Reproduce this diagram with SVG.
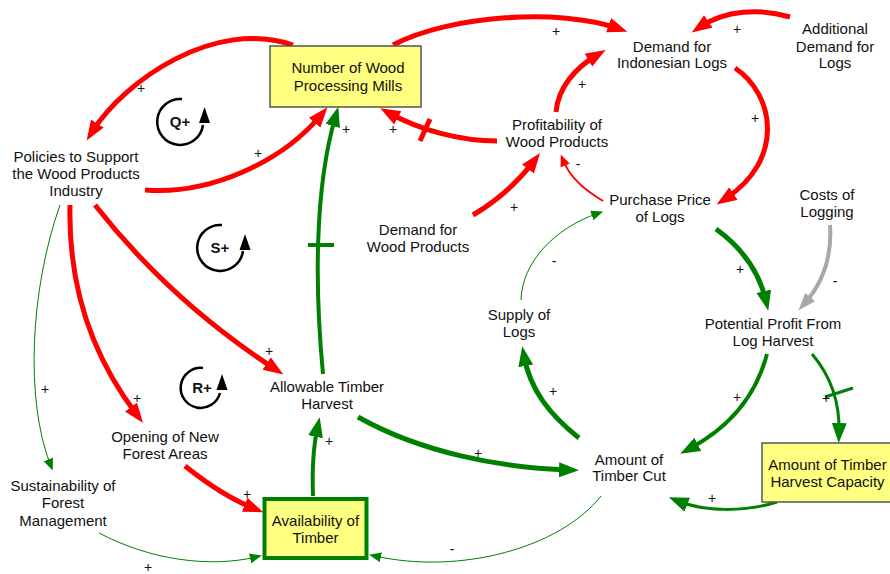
<svg xmlns="http://www.w3.org/2000/svg" width="890" height="574" viewBox="0 0 890 574">
<defs>
<style>
text{font-family:"Liberation Sans",Arial,sans-serif;font-size:15px;fill:#111;text-anchor:middle}
.pol{font-size:14px}
.loop{font-weight:bold;font-size:15px}
.c{fill:none;stroke-linecap:butt}
.r{stroke:#ff0000;stroke-width:5}
.rm{stroke:#ff0000;stroke-width:2}
.g{stroke:#008000;stroke-width:5}
.g4{stroke:#008000;stroke-width:4}
.g3{stroke:#008000;stroke-width:3}
.gt{stroke:#008000;stroke-width:1}
.gy{stroke:#a8a8a8;stroke-width:4}
.box{fill:#ffff80;stroke:#555;stroke-width:1.5}
.lp{fill:none;stroke:#000;stroke-width:2.5}
</style>
<marker id="ar" markerUnits="userSpaceOnUse" markerWidth="22" markerHeight="18" refX="10" refY="8" orient="auto"><path d="M0,0.5 L20,8 L0,15.5 z" fill="#ff0000"/></marker>
<marker id="arm" markerUnits="userSpaceOnUse" markerWidth="14" markerHeight="12" refX="6" refY="5" orient="auto"><path d="M0,0 L12,5 L0,10 z" fill="#ff0000"/></marker>
<marker id="ag" markerUnits="userSpaceOnUse" markerWidth="22" markerHeight="18" refX="10" refY="8" orient="auto"><path d="M0,0.5 L20,8 L0,15.5 z" fill="#008000"/></marker>
<marker id="agt" markerUnits="userSpaceOnUse" markerWidth="14" markerHeight="12" refX="6" refY="5" orient="auto"><path d="M0,0 L12,5 L0,10 z" fill="#008000"/></marker>
<marker id="agy" markerUnits="userSpaceOnUse" markerWidth="20" markerHeight="16" refX="8" refY="7" orient="auto"><path d="M0,0.5 L18,7 L0,13.5 z" fill="#a8a8a8"/></marker>
</defs>
<rect width="890" height="574" fill="#fff"/>

<g id="connectors">
<path class="c r" marker-end="url(#ar)" d="M293,45 C215,18 125,80 92,132"/>
<path class="c r" marker-end="url(#ar)" d="M145,190 C210,195 282,162 321,115"/>
<path class="c r" marker-end="url(#ar)" d="M497,141 C460,141 420,130 389,113"/>
<path class="c r" d="M420,141 L430,119"/>
<path class="c r" marker-end="url(#ar)" d="M393,45 C450,15 560,8 618,28.5"/>
<path class="c r" marker-end="url(#ar)" d="M790,17 C760,8 725,10 700,27"/>
<path class="c r" marker-end="url(#ar)" d="M556,112 C558,88 575,68 597,55"/>
<path class="c r" marker-end="url(#ar)" d="M735,68 C775,95 785,160 725,199"/>
<path class="c r" marker-end="url(#ar)" d="M473,215 C495,202 518,182 534,161"/>
<path class="c rm" marker-end="url(#arm)" d="M603,201 C585,190 570,178 563,160"/>
<path class="c r" marker-end="url(#ar)" d="M70,205 C68,290 95,360 137,415"/>
<path class="c r" marker-end="url(#ar)" d="M95,205 C150,275 215,330 275,369"/>
<path class="c r" marker-end="url(#ar)" d="M185,466 C205,482 228,498 254,508.5"/>

<path class="c g4" marker-end="url(#ag)" d="M313,496 C312,470 313,448 317.6,427"/>
<path class="c g4" marker-end="url(#ag)" d="M323,374 C315,290 314,190 335.5,116.4"/>
<path class="c g4" d="M308,245 L334,245"/>
<path class="c g" marker-end="url(#ag)" d="M358,417 C420,452 500,468 569,470"/>
<path class="c g" marker-end="url(#ag)" d="M579,438 C550,415 530,390 524,356"/>
<path class="c gt" marker-end="url(#agt)" d="M521,300 C522,262 555,228 597.5,213.5"/>
<path class="c g" marker-end="url(#ag)" d="M716,229 C745,250 760,275 766,301"/>
<path class="c gy" marker-end="url(#agy)" d="M830,225 C832,255 825,280 805,303"/>
<path class="c g4" marker-end="url(#ag)" d="M767,354 C755,400 725,430 689,449"/>
<path class="c g3" marker-end="url(#ag)" d="M812,354 C830,375 840,400 839,433"/>
<path class="c g3" d="M825,397 L853,388"/>
<path class="c g3" marker-end="url(#ag)" d="M777,502 C745,512 705,512 678,501"/>
<path class="c gt" marker-end="url(#agt)" d="M601,496 C560,548 460,575 375,556"/>
<path class="c gt" marker-end="url(#agt)" d="M99,533 C150,560 210,568 256,557"/>
<path class="c gt" marker-end="url(#agt)" d="M60,205 C30,290 25,400 50.5,465"/>

<g id="polarities">
<text class="pol" x="141" y="93">+</text>
<text class="pol" x="258" y="158">+</text>
<text class="pol" x="393" y="134">+</text>
<text class="pol" x="346" y="134">+</text>
<text class="pol" x="556" y="36">+</text>
<text class="pol" x="737" y="34">+</text>
<text class="pol" x="582" y="89">+</text>
<text class="pol" x="755" y="123">+</text>
<text class="pol" x="514" y="212">+</text>
<text class="pol" x="578" y="169">-</text>
<text class="pol" x="137" y="403">+</text>
<text class="pol" x="269" y="356">+</text>
<text class="pol" x="247" y="499">+</text>
<text class="pol" x="329" y="446">+</text>
<text class="pol" x="478" y="458">+</text>
<text class="pol" x="553" y="396">+</text>
<text class="pol" x="554" y="266">-</text>
<text class="pol" x="740" y="274">+</text>
<text class="pol" x="835" y="286">-</text>
<text class="pol" x="737" y="402">+</text>
<text class="pol" x="826" y="403">+</text>
<text class="pol" x="712" y="503">+</text>
<text class="pol" x="452" y="554">-</text>
<text class="pol" x="148" y="572">+</text>
<text class="pol" x="45" y="394">+</text>
</g>
</g>

<g id="loop-Q">
<path class="lp" d="M182,99 A23,23 0 1 0 203,125"/>
<path d="M204.5,107 L199,123 L210,123 z" fill="#000"/>
<text class="loop" x="180" y="127">Q+</text>
</g>
<g id="loop-S">
<path class="lp" d="M222,225 A23,23 0 1 0 243,251"/>
<path d="M245,234 L239.5,250 L250.5,250 z" fill="#000"/>
<text class="loop" x="220" y="253">S+</text>
</g>
<g id="loop-R">
<path class="lp" d="M203,368 A20,20 0 1 0 220,393"/>
<path d="M222,374 L216.5,390 L227.5,390 z" fill="#000"/>
<text class="loop" x="202" y="393">R+</text>
</g>

<g id="node-mills">
<rect class="box" x="270" y="46" width="151" height="61"/>
<text x="348" y="73">Number of Wood</text>
<text x="348" y="91">Processing Mills</text>
</g>
<g id="node-demand-indonesian">
<text x="672" y="52">Demand for</text>
<text x="672" y="68">Indonesian Logs</text>
</g>
<g id="node-additional-demand">
<text x="835" y="34">Additional</text>
<text x="835" y="52">Demand for</text>
<text x="835" y="68">Logs</text>
</g>
<g id="node-profitability">
<text x="557" y="130">Profitability of</text>
<text x="557" y="147">Wood Products</text>
</g>
<g id="node-purchase-price">
<text x="660" y="205">Purchase Price</text>
<text x="660" y="222">of Logs</text>
</g>
<g id="node-costs">
<text x="827" y="200">Costs of</text>
<text x="827" y="217">Logging</text>
</g>
<g id="node-demand-wood">
<text x="418" y="235">Demand for</text>
<text x="418" y="252">Wood Products</text>
</g>
<g id="node-policies">
<text x="76" y="162">Policies to Support</text>
<text x="76" y="179">the Wood Products</text>
<text x="76" y="196">Industry</text>
</g>
<g id="node-allowable">
<text x="327" y="392">Allowable Timber</text>
<text x="327" y="409">Harvest</text>
</g>
<g id="node-opening">
<text x="165" y="442">Opening of New</text>
<text x="165" y="459">Forest Areas</text>
</g>
<g id="node-sustainability">
<text x="63" y="491">Sustainability of</text>
<text x="63" y="508">Forest</text>
<text x="63" y="526">Management</text>
</g>
<g id="node-availability">
<rect x="264.5" y="499" width="102" height="59" fill="#ffff80" stroke="#008000" stroke-width="4"/>
<text x="315.5" y="526">Availability of</text>
<text x="315.5" y="543">Timber</text>
</g>
<g id="node-supply">
<text x="519" y="320">Supply of</text>
<text x="519" y="337">Logs</text>
</g>
<g id="node-potential-profit">
<text x="773" y="329">Potential Profit From</text>
<text x="773" y="346">Log Harvest</text>
</g>
<g id="node-timber-cut">
<text x="629" y="465">Amount of</text>
<text x="629" y="481">Timber Cut</text>
</g>
<g id="node-capacity">
<rect class="box" x="762" y="443" width="132" height="59"/>
<text x="827.5" y="470">Amount of Timber</text>
<text x="827.5" y="487">Harvest Capacity</text>
</g>
</svg>
